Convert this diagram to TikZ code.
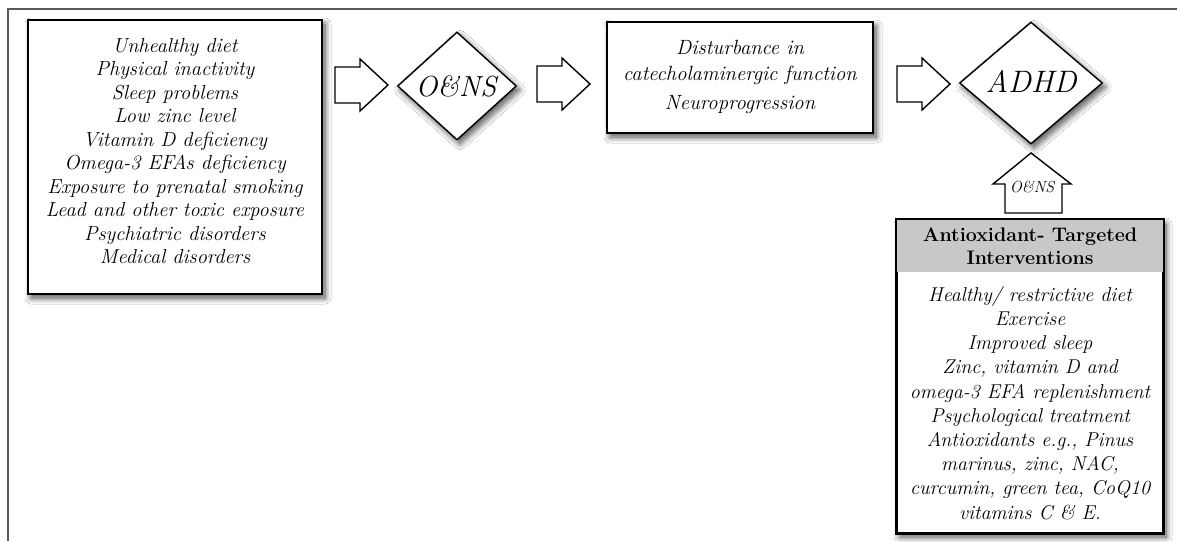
\documentclass[tikz,border=0pt]{standalone}
\usetikzlibrary{shapes.geometric,shadows.blur}
\definecolor{framegray}{RGB}{90,90,90}
\definecolor{headgray}{RGB}{200,200,200}
\tikzset{
  shad/.style={blur shadow={shadow xshift=3pt,shadow yshift=-4pt,shadow blur radius=6pt,shadow blur steps=12,shadow opacity=70}},
  box/.style={draw=black,line width=1.6pt,fill=white,rectangle,inner sep=0pt,shad},
  dia/.style={draw=black,line width=1.4pt,fill=white,diamond,inner sep=0pt,shad},
  blk/.style={draw=black,line width=1.4pt,fill=white,line join=miter},
  txt/.style={align=center,inner sep=0pt,font=\fontsize{20.3}{23.5}\selectfont\itshape},
}
\begin{document}
\begin{tikzpicture}[x=1pt,y=-1pt]
\useasboundingbox (0,0) rectangle (1177,541);
\fill[white] (0,0) rectangle (1177,541);
\coordinate (fbl) at (8,541);
\coordinate (ftl) at (8,9);
\coordinate (ftr) at (1177,9);
\draw[framegray,line width=2pt] (fbl) -- (ftl) -- (ftr);

% left box
\node[box,minimum width=294pt,minimum height=274pt] (causes) at (175,157) {};
\node[txt] (causestxt) at (175,151) {Unhealthy diet\\Physical inactivity\\Sleep problems\\Low zinc level\\Vitamin D deficiency\\Omega-3 EFAs deficiency\\Exposure to prenatal smoking\\Lead and other toxic exposure\\Psychiatric disorders\\Medical disorders};

% O&NS diamond
\node[dia,minimum width=119pt,minimum height=108pt] (ons) at (457,86) {};
\node[inner sep=0pt,font=\fontsize{29}{32}\selectfont\itshape] (onstxt) at (456,86) {O\&NS};

% middle box
\node[box,minimum width=266pt,minimum height=111pt] (dist) at (740,77.5) {};
\node[txt,font=\fontsize{20.6}{22}\selectfont\itshape] (d1) at (740,47) {Disturbance in};
\node[txt,font=\fontsize{20.6}{22}\selectfont\itshape] (d2) at (740,75) {catecholaminergic function};
\node[txt,font=\fontsize{20.6}{22}\selectfont\itshape] (d3) at (740,105) {Neuroprogression};

% ADHD diamond
\node[dia,minimum width=143pt,minimum height=122pt] (adhd) at (1031,83) {};
\node[inner sep=0pt,font=\fontsize{31}{34}\selectfont\itshape] (adhdtxt) at (1031,81) {ADHD};

% bottom box
\node[box,minimum width=266pt,minimum height=313pt] (inter) at (1030,376.5) {};
\fill[headgray] ([shift={(0.8,0.8)}]inter.north west) rectangle ([shift={(-0.8,53)}]inter.north east);
\draw[black,line width=1.6pt] (inter.north west) rectangle (inter.south east);
\node[align=center,inner sep=0pt,font=\fontsize{19.6}{23}\selectfont\bfseries] (head) at (1030,246.5) {Antioxidant- Targeted\\Interventions};
\node[txt,font=\fontsize{20}{24.2}\selectfont\itshape] (intertxt) at (1030,403) {Healthy/ restrictive diet\\Exercise\\Improved sleep\\Zinc, vitamin D and\\omega-3 EFA replenishment\\Psychological treatment\\Antioxidants e.g., Pinus\\marinus, zinc, NAC,\\curcumin, green tea, CoQ10\\vitamins C \& E.};

% block arrows (right)
\newcommand\rblock[2]{%
  \draw[blk] (#1,#2-18) -- (#1+25,#2-18) -- (#1+25,#2-26) -- (#1+53,#2) -- (#1+25,#2+26) -- (#1+25,#2+18) -- (#1,#2+18) -- cycle;}
\rblock{335}{85}
\rblock{537}{84}
\rblock{897}{84}

% up arrow
\draw[blk] (1005,213) -- (1005,184) -- (993,184) -- (1031,153) -- (1071,184) -- (1062,184) -- (1062,213) -- cycle;
\node[inner sep=0pt,font=\fontsize{16}{18}\selectfont\itshape] (smallons) at (1032,187) {O\&NS};
\end{tikzpicture}
\end{document}
